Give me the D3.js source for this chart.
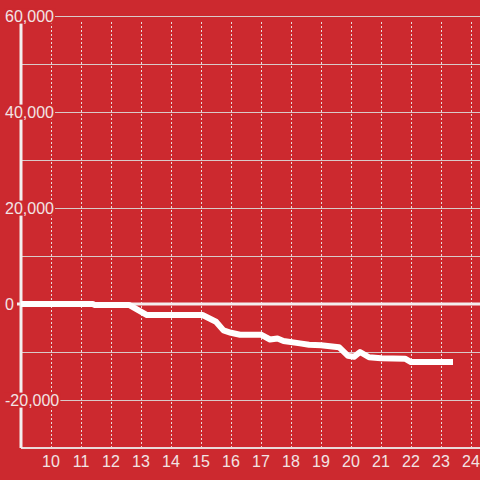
<!DOCTYPE html>
<html>
<head>
<meta charset="utf-8">
<script src="https://cdn.jsdelivr.net/npm/d3@7"></script>
<style>
  body { margin: 0; background: #cc292f; }
  text { font-family: "Liberation Sans", Arial, sans-serif; }
</style>
</head>
<body>
<div id="chart"></div>
<script>
// hour of day and running value
var hours = [9.0, 11.4, 11.45, 12.6, 13.2, 15.05, 15.5, 15.75, 16.0, 16.3, 17.0, 17.3, 17.55, 17.75, 18.3, 18.6, 19.0, 19.6, 19.9, 20.1, 20.3, 20.6, 21.0, 21.8, 22.0, 23.4];
var values = [0, 0, -200, -200, -2300, -2300, -3700, -5500, -6000, -6400, -6400, -7400, -7200, -7700, -8200, -8500, -8600, -9000, -10800, -11000, -10000, -11100, -11300, -11400, -12100, -12100];

var xTicks = [10, 11, 12, 13, 14, 15, 16, 17, 18, 19, 20, 21, 22, 23, 24];
var yGrid = [60000, 50000, 40000, 30000, 20000, 10000, -10000, -20000];
var yLabels = [60000, 40000, 20000, 0, -20000];

var W = 480, H = 480;
var bg = "#cc292f";

var svg = d3.select("#chart").append("svg")
  .attr("width", W)
  .attr("height", H);

svg.append("rect").attr("width", W).attr("height", H).attr("fill", bg);

var x = d3.scaleLinear().domain([9, 24.3]).range([21, 480]);
var y = d3.scaleLinear().domain([-30000, 60000]).range([448, 16]);

// vertical dashed grid
svg.append("g").selectAll("line")
  .data(xTicks)
  .enter().append("line")
    .attr("x1", function(d) { return Math.round(x(d)) + 0.5; })
    .attr("x2", function(d) { return Math.round(x(d)) + 0.5; })
    .attr("y1", 22)
    .attr("y2", 448)
    .attr("stroke", "#e8dcdc")
    .attr("stroke-dasharray", "2,2");

// horizontal grid
svg.append("g").selectAll("line")
  .data(yGrid)
  .enter().append("line")
    .attr("x1", 21)
    .attr("x2", W)
    .attr("y1", function(d) { return Math.round(y(d)) + 0.5; })
    .attr("y2", function(d) { return Math.round(y(d)) + 0.5; })
    .attr("stroke", "#d9c9c9")
    .attr("stroke-width", 1);

// bottom axis line
svg.append("line")
  .attr("x1", 21).attr("x2", W)
  .attr("y1", y(-30000)).attr("y2", y(-30000))
  .attr("stroke", "#eadada")
  .attr("stroke-width", 2);

// zero line
svg.append("line")
  .attr("x1", 17).attr("x2", W)
  .attr("y1", y(0)).attr("y2", y(0))
  .attr("stroke", "#f3eeee")
  .attr("stroke-width", 3);

// left axis line
svg.append("line")
  .attr("x1", 21).attr("x2", 21)
  .attr("y1", y(60000)).attr("y2", y(-30000))
  .attr("stroke", "#f3eeee")
  .attr("stroke-width", 3);

// y labels with a background that hides the axis behind them
var yl = svg.append("g").selectAll("g")
  .data(yLabels)
  .enter().append("g");

yl.append("text")
  .attr("x", 5)
  .attr("y", function(d) { return y(d); })
  .attr("dy", "0.35em")
  .attr("fill", "#f2e4e4")
  .style("font-size", "16px")
  .text(function(d) { return d3.format(",")(d).replace("−", "-"); })
  .each(function() {
    var b = this.getBBox();
    d3.select(this.parentNode).insert("rect", "text")
      .attr("x", b.x - 1)
      .attr("y", b.y + 1)
      .attr("width", b.width + 2)
      .attr("height", b.height - 2)
      .attr("fill", bg);
  });

// x labels
svg.append("g").selectAll("text")
  .data(xTicks)
  .enter().append("text")
    .attr("x", function(d) { return x(d); })
    .attr("y", 461)
    .attr("dy", "0.35em")
    .attr("text-anchor", "middle")
    .attr("fill", "#f2e4e4")
    .style("font-size", "16px")
    .text(function(d) { return d; });

// the line
var line = d3.line()
  .x(function(d, i) { return x(hours[i]); })
  .y(function(d) { return y(d); });

svg.append("path")
  .datum(values)
  .attr("d", line)
  .attr("fill", "none")
  .attr("stroke", "#ffffff")
  .attr("stroke-width", 6)
  .attr("stroke-linejoin", "round");
</script>
</body>
</html>
